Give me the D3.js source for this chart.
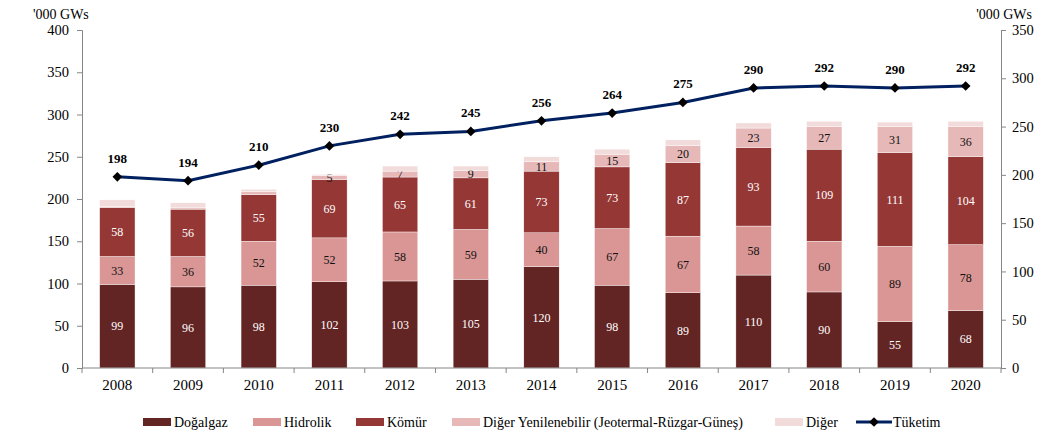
<!DOCTYPE html>
<html>
<head>
<meta charset="utf-8">
<script src="https://cdn.jsdelivr.net/npm/d3@7"></script>
<style>
  body { margin: 0; background: #fff; }
  svg text { font-family: "Liberation Serif", "Times New Roman", serif; }
</style>
</head>
<body>
<div id="chart"></div>
<script>
const years = ["2008","2009","2010","2011","2012","2013","2014","2015","2016","2017","2018","2019","2020"];
const dogalgaz = [99, 96, 98, 102, 103, 105, 120, 98, 89, 110, 90, 55, 68];
const hidrolik = [33, 36, 52, 52, 58, 59, 40, 67, 67, 58, 60, 89, 78];
const komur = [58, 56, 55, 69, 65, 61, 73, 73, 87, 93, 109, 111, 104];
const digerYen = [1, 1.5, 3.5, 5, 7, 9, 11, 15, 20, 23, 27, 31, 36];
const diger = [8, 6, 3, 1, 6, 5, 6, 6, 7, 6, 6, 5, 6];
const tuketim = [198, 194, 210, 230, 242, 245, 256, 264, 275, 290, 292, 290, 292];
const leftTicks = [0, 50, 100, 150, 200, 250, 300, 350, 400];
const rightTicks = [0, 50, 100, 150, 200, 250, 300, 350];

const W = 1038, H = 433;
const m = {l: 82, r: 1001, t: 30, b: 368};

const series = [
  {key: "Doğalgaz", vals: dogalgaz, color: "#632523", text: "#fff"},
  {key: "Hidrolik", vals: hidrolik, color: "#d99694", text: "#111"},
  {key: "Kömür", vals: komur, color: "#953735", text: "#fff"},
  {key: "Diğer Yenilenebilir (Jeotermal-Rüzgar-Güneş)", vals: digerYen, color: "#e6b9b8", text: "#111", minLabel: 5},
  {key: "Diğer", vals: diger, color: "#f2dcdb", text: null}
];

const svg = d3.select("#chart").append("svg").attr("width", W).attr("height", H);

const x = d3.scaleBand().domain(years).range([m.l, m.r]).paddingInner(0.5).paddingOuter(0.25);
const xb = d3.scaleBand().domain(years).range([m.l, m.r]);
const yL = d3.scaleLinear().domain([0, 400]).range([m.b, m.t]);
const yR = d3.scaleLinear().domain([0, 350]).range([m.b, m.t]);

// stack
const rows = years.map((y, i) => {
  const r = {year: y};
  series.forEach(s => r[s.key] = s.vals[i]);
  return r;
});
const stacked = d3.stack().keys(series.map(s => s.key))(rows);

const bars = svg.append("g");
stacked.forEach((layer, li) => {
  const s = series[li];
  const g = bars.append("g");
  g.selectAll("rect").data(layer).join("rect")
    .attr("x", d => x(d.data.year))
    .attr("width", x.bandwidth())
    .attr("y", d => yL(d[1]))
    .attr("height", d => yL(d[0]) - yL(d[1]))
    .attr("fill", s.color)
    .attr("stroke", "#fff")
    .attr("stroke-width", 0.4);
  if (s.text) {
    g.selectAll("text").data(layer.filter(d => !s.minLabel || d[1] - d[0] >= s.minLabel)).join("text")
      .attr("x", d => x(d.data.year) + x.bandwidth() / 2)
      .attr("y", d => yL((d[0] + d[1]) / 2))
      .attr("dy", "0.35em")
      .attr("text-anchor", "middle")
      .attr("font-size", "12px")
      .attr("fill", s.text)
      .text(d => Math.round(d[1] - d[0]));
  }
});

// axes
const axisCol = "#868686";
const gl = svg.append("g").attr("transform", `translate(${m.l},0)`)
  .call(d3.axisLeft(yL).tickValues(leftTicks).tickSize(5).tickPadding(8));
const gr = svg.append("g").attr("transform", `translate(${m.r},0)`)
  .call(d3.axisRight(yR).tickValues(rightTicks).tickSize(5).tickPadding(6));
[gl, gr].forEach(g => {
  g.select(".domain").attr("stroke", axisCol);
  g.selectAll(".tick line").attr("stroke", axisCol);
  g.selectAll(".tick text").attr("font-size", "14.5px").attr("fill", "#000");
});

const gx = svg.append("g").attr("transform", `translate(0,${m.b})`);
gx.append("line").attr("x1", m.l).attr("x2", m.r).attr("stroke", axisCol);
gx.selectAll("line.tk").data(years.concat(["end"])).join("line").attr("class", "tk")
  .attr("x1", (d, i) => m.l + i * xb.bandwidth())
  .attr("x2", (d, i) => m.l + i * xb.bandwidth())
  .attr("y1", 0).attr("y2", 5).attr("stroke", axisCol);
gx.selectAll("text").data(years).join("text")
  .attr("x", d => xb(d) + xb.bandwidth() / 2)
  .attr("y", 22)
  .attr("text-anchor", "middle")
  .attr("font-size", "15px")
  .text(d => d);

svg.append("text").attr("x", 33).attr("y", 19).attr("font-size", "14px").text("'000 GWs");
svg.append("text").attr("x", 1032).attr("y", 19).attr("text-anchor", "end").attr("font-size", "14px").text("'000 GWs");

// line
const cx = d => x(d) + x.bandwidth() / 2;
const line = d3.line().x((d, i) => cx(years[i])).y(d => yR(d));
svg.append("path").datum(tuketim)
  .attr("d", line).attr("fill", "none").attr("stroke", "#002060").attr("stroke-width", 3);
const diamond = d3.symbol().type(d3.symbolDiamond2).size(60);
svg.append("g").selectAll("path").data(tuketim).join("path")
  .attr("d", diamond)
  .attr("transform", (d, i) => `translate(${cx(years[i])},${yR(d)})`)
  .attr("fill", "#000");
svg.append("g").selectAll("text").data(tuketim).join("text")
  .attr("x", (d, i) => cx(years[i]))
  .attr("y", d => yR(d) - 14)
  .attr("text-anchor", "middle")
  .attr("font-size", "13px")
  .attr("font-weight", "bold")
  .text(d => d);

// legend
const legX = [143, 253, 356, 452, 775];
const lg = svg.append("g");
series.forEach((s, i) => {
  lg.append("rect").attr("x", legX[i]).attr("y", 418).attr("width", 28).attr("height", 8).attr("fill", s.color);
  lg.append("text").attr("x", legX[i] + 31).attr("y", 427).attr("font-size", "14px").text(s.key);
});
lg.append("line").attr("x1", 856).attr("x2", 892).attr("y1", 422).attr("y2", 422)
  .attr("stroke", "#002060").attr("stroke-width", 3);
lg.append("path").attr("d", diamond).attr("transform", "translate(874,422)").attr("fill", "#000");
lg.append("text").attr("x", 893).attr("y", 427).attr("font-size", "14px").text("Tüketim");
</script>
</body>
</html>
